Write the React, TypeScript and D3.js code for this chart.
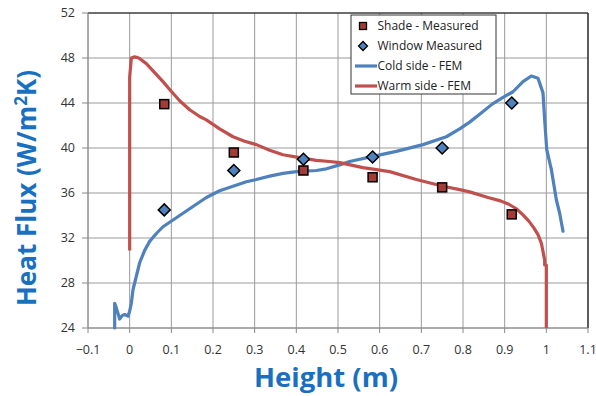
import React from "react";
import * as d3 from "d3";

const xTicks = [-0.1, 0, 0.1, 0.2, 0.3, 0.4, 0.5, 0.6, 0.7, 0.8, 0.9, 1, 1.1];
const yTicks = [24, 28, 32, 36, 40, 44, 48, 52];

const measuredX = [0.083, 0.25, 0.417, 0.583, 0.75, 0.917];
const shadeMeasured = [43.9, 39.6, 38.0, 37.4, 36.5, 34.1];
const windowMeasured = [34.5, 38.0, 39.0, 39.2, 40.0, 44.0];

const coldX = [-0.036, -0.036, -0.033, -0.028, -0.024, -0.018, -0.012, -0.004, 0.0, 0.004, 0.008, 0.016, 0.024, 0.036, 0.048, 0.064, 0.08, 0.104, 0.128, 0.152, 0.184, 0.216, 0.248, 0.28, 0.304, 0.336, 0.368, 0.4, 0.448, 0.472, 0.504, 0.528, 0.584, 0.64, 0.704, 0.76, 0.792, 0.816, 0.84, 0.87, 0.896, 0.92, 0.944, 0.964, 0.98, 0.992, 0.996, 1.001, 1.012, 1.024, 1.032, 1.04];
const coldY = [24.0, 26.2, 25.9, 25.3, 24.8, 25.1, 25.2, 25.05, 25.5, 26.2, 27.4, 28.6, 29.8, 30.9, 31.7, 32.4, 33.0, 33.6, 34.2, 34.8, 35.6, 36.2, 36.6, 37.0, 37.2, 37.5, 37.75, 37.9, 38.0, 38.15, 38.5, 38.8, 39.25, 39.7, 40.3, 41.0, 41.7, 42.3, 43.0, 43.9, 44.5, 45.0, 45.9, 46.4, 46.2, 44.9, 42.5, 39.85, 38.1, 35.4, 34.2, 32.6];

const warmX = [0.0, 0.0, 0.004, 0.012, 0.022, 0.04, 0.06, 0.08, 0.096, 0.12, 0.144, 0.168, 0.184, 0.216, 0.248, 0.276, 0.304, 0.336, 0.368, 0.408, 0.448, 0.48, 0.504, 0.56, 0.624, 0.688, 0.752, 0.792, 0.816, 0.86, 0.89, 0.91, 0.928, 0.944, 0.958, 0.97, 0.98, 0.988, 0.996, 0.996, 1.0, 1.0];
const warmY = [30.9, 46.3, 48.0, 48.1, 48.0, 47.5, 46.7, 45.9, 45.2, 44.2, 43.4, 42.8, 42.5, 41.7, 41.0, 40.6, 40.3, 39.8, 39.4, 39.15, 38.9, 38.8, 38.7, 38.25, 37.9, 37.2, 36.6, 36.3, 36.1, 35.6, 35.3, 35.0, 34.6, 34.05, 33.5, 32.9, 32.3, 31.55, 30.05, 29.6, 29.6, 24.0];

const legendLabels = ["Shade - Measured", "Window Measured", "Cold side - FEM", "Warm side - FEM"];

const BLUE = "#4f81bd";
const RED = "#c0504d";
const SHADE_FILL = "#a33b37";
const TITLE = "#1a70c0";
const FONT = "'Open Sans', 'Liberation Sans', sans-serif";

export default function App() {
  const W = 596, H = 396;
  const L = 88, R = 588, T = 13, B = 328;
  const x = d3.scaleLinear().domain([-0.1, 1.1]).range([L, R]);
  const y = d3.scaleLinear().domain([24, 52]).range([B, T]);
  const line = d3.line<[number, number]>().x(d => x(d[0])).y(d => y(d[1]));
  const cold = coldX.map((v, i) => [v, coldY[i]] as [number, number]);
  const warm = warmX.map((v, i) => [v, warmY[i]] as [number, number]);
  const fmt = (v: number) => (Math.abs(v) < 1e-9 ? "0" : d3.format("")(+v.toFixed(1)));
  const diamond = (cx: number, cy: number, r: number) => `M${cx},${cy - r}L${cx + r},${cy}L${cx},${cy + r}L${cx - r},${cy}Z`;

  const lgX = 351, lgY = 15, lgW = 145, lgH = 79;
  const rowY = [26, 46, 66, 86];

  return (
    <svg width={W} height={H} style={{ position: "absolute", left: 0, top: 0, background: "#fff" }} fontFamily={FONT}>
      <rect x={0} y={0} width={W} height={H} fill="#fff" />
      {xTicks.map(t => (
        <line key={"gx" + t} x1={x(t)} x2={x(t)} y1={T} y2={B} stroke="#9a9a9a" strokeWidth={1} />
      ))}
      {yTicks.map(t => (
        <line key={"gy" + t} x1={L} x2={R} y1={y(t)} y2={y(t)} stroke="#9a9a9a" strokeWidth={1} />
      ))}
      {yTicks.map(t => (
        <line key={"ty" + t} x1={L - 6} x2={L} y1={y(t)} y2={y(t)} stroke="#888" />
      ))}
      {xTicks.map(t => (
        <line key={"tx" + t} x1={x(t)} x2={x(t)} y1={B} y2={B + 5} stroke="#888" />
      ))}
      <line x1={L} x2={R} y1={T} y2={T} stroke="#111" strokeWidth={1.2} />
      <line x1={R} x2={R} y1={T} y2={B} stroke="#111" strokeWidth={1.2} />
      <line x1={L} x2={L} y1={T} y2={B} stroke="#888" />
      <line x1={L} x2={R} y1={B} y2={B} stroke="#888" />
      {yTicks.map(t => (
        <text key={"ly" + t} x={75} y={y(t)} dy="0.35em" textAnchor="end" fontSize={12.5} fill="#333">{t}</text>
      ))}
      {xTicks.map(t => (
        <text key={"lx" + t} x={x(t)} y={354} textAnchor="middle" fontSize={12.5} fill="#333">{fmt(t)}</text>
      ))}
      <path d={line(cold) || ""} fill="none" stroke={BLUE} strokeWidth={3.2} strokeLinejoin="round" strokeLinecap="round" />
      <path d={line(warm) || ""} fill="none" stroke={RED} strokeWidth={3.2} strokeLinejoin="round" />
      {measuredX.map((v, i) => (
        <rect key={"s" + i} x={x(v) - 4.5} y={y(shadeMeasured[i]) - 4.5} width={9} height={9} fill={SHADE_FILL} stroke="#000" strokeWidth={1.5} />
      ))}
      {measuredX.map((v, i) => (
        <path key={"w" + i} d={diamond(x(v), y(windowMeasured[i]), 6)} fill={BLUE} stroke="#000" strokeWidth={1.5} />
      ))}
      <rect x={lgX} y={lgY} width={lgW} height={lgH} fill="#fff" stroke="#333" strokeWidth={1} />
      <rect x={363 - 3.5} y={rowY[0] - 3.5} width={7} height={7} fill={SHADE_FILL} stroke="#000" strokeWidth={1.3} />
      <path d={diamond(363, rowY[1], 4.5)} fill={BLUE} stroke="#000" strokeWidth={1.3} />
      <line x1={355} x2={377} y1={rowY[2]} y2={rowY[2]} stroke={BLUE} strokeWidth={3.2} />
      <line x1={355} x2={377} y1={rowY[3]} y2={rowY[3]} stroke={RED} strokeWidth={3.2} />
      {legendLabels.map((s, i) => (
        <text key={"lg" + i} x={377.5} y={rowY[i]} dy="0.35em" fontSize={12} fill="#222">{s}</text>
      ))}
      <text x={326} y={387} textAnchor="middle" fontSize={27.5} fontWeight="bold" fill={TITLE}>Height (m)</text>
      <text transform={`translate(36,188) rotate(-90)`} textAnchor="middle" fontSize={26} fontWeight="bold" fill={TITLE}>
        Heat Flux (W/m<tspan fontSize={17} dy={-9}>2</tspan><tspan dy={9}>K)</tspan>
      </text>
    </svg>
  );
}
